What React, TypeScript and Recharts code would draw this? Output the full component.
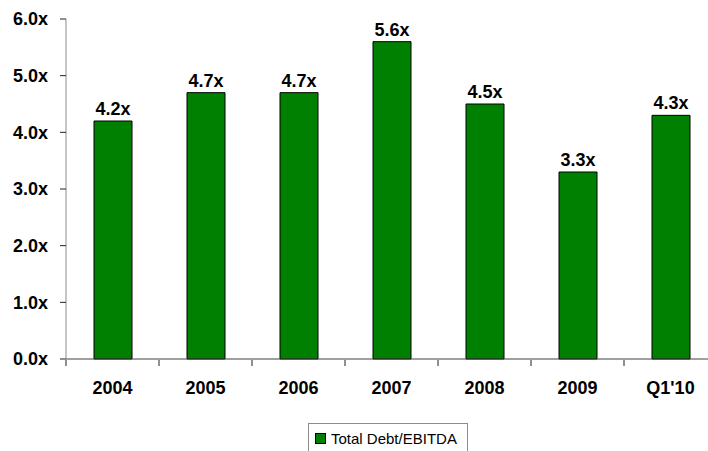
import { BarChart, Bar, XAxis, YAxis, LabelList, Legend } from "recharts";

const periods = ["2004", "2005", "2006", "2007", "2008", "2009", "Q1'10"];
const debtToEbitda = [4.2, 4.7, 4.7, 5.6, 4.5, 3.3, 4.3];
const yTicks = [0, 1, 2, 3, 4, 5, 6];
const boundaryTicks = [0, 1, 2, 3, 4, 5, 6, 7];
const seriesName = "Total Debt/EBITDA";

const data = periods.map((period, i) => ({ period, pos: i + 0.5, value: debtToEbitda[i] }));

const FONT = "Arial, 'Liberation Sans', sans-serif";
const GREEN = "#008000";

const fmt = (v: number) => `${v.toFixed(1)}x`;

function LegendBox({ payload }: any) {
  return (
    <div
      style={{
        border: "1px solid #8c8c8c",
        padding: "6px 10px 12px 6px",
        fontFamily: FONT,
        fontSize: 15,
        color: "#000",
        background: "#fff",
      }}
    >
      {(payload || []).map((p: any) => (
        <span key={p.value} style={{ display: "flex", alignItems: "center" }}>
          <span
            style={{
              display: "inline-block",
              width: 9,
              height: 9,
              background: p.color,
              border: "1px solid #000",
              marginRight: 5,
            }}
          />
          {p.value}
        </span>
      ))}
    </div>
  );
}

export default function App() {
  return (
    <div
      style={{
        position: "absolute",
        left: 0,
        top: 0,
        width: 708,
        height: 451,
        overflow: "hidden",
        background: "#fff",
      }}
    >
      <BarChart
        width={730}
        height={451}
        data={data}
        margin={{ top: 19, right: 13, bottom: 90, left: 6 }}
        barSize={38}
      >
        <XAxis
          xAxisId="cat"
          dataKey="period"
          height={1}
          tickLine={false}
          tickSize={0}
          tickMargin={22}
          axisLine={{ stroke: "#404040" }}
          tick={{ fill: "#000", fontSize: 18, fontWeight: "bold", fontFamily: FONT }}
          interval={0}
        />
        <XAxis
          xAxisId="edge"
          type="number"
          dataKey="pos"
          domain={[0, 7]}
          ticks={boundaryTicks}
          interval={0}
          height={1}
          axisLine={false}
          tickFormatter={() => ""}
          tick={{ fontSize: 1 }}
          tickSize={6}
          tickLine={{ stroke: "#202020" }}
          allowDecimals={false}
        />
        <YAxis
          domain={[0, 6]}
          ticks={yTicks}
          width={60}
          tickSize={6}
          tickMargin={12}
          tickFormatter={fmt}
          axisLine={{ stroke: "#8c8c8c" }}
          tickLine={{ stroke: "#202020" }}
          tick={{ fill: "#000", fontSize: 18, fontWeight: "bold", fontFamily: FONT }}
        />
        <Legend
          layout="horizontal"
          verticalAlign="middle"
          align="center"
          content={<LegendBox />}
          wrapperStyle={{ left: 308, top: 423, width: "auto", height: "auto" }}
        />
        <Bar
          xAxisId="cat"
          dataKey="value"
          name={seriesName}
          fill={GREEN}
          stroke="#000"
          strokeWidth={1}
          isAnimationActive={false}
        >
          <LabelList
            dataKey="value"
            position="top"
            offset={6}
            formatter={(v: any) => fmt(Number(v))}
            style={{ fill: "#000", fontSize: 18, fontWeight: "bold", fontFamily: FONT }}
          />
        </Bar>
      </BarChart>
    </div>
  );
}
